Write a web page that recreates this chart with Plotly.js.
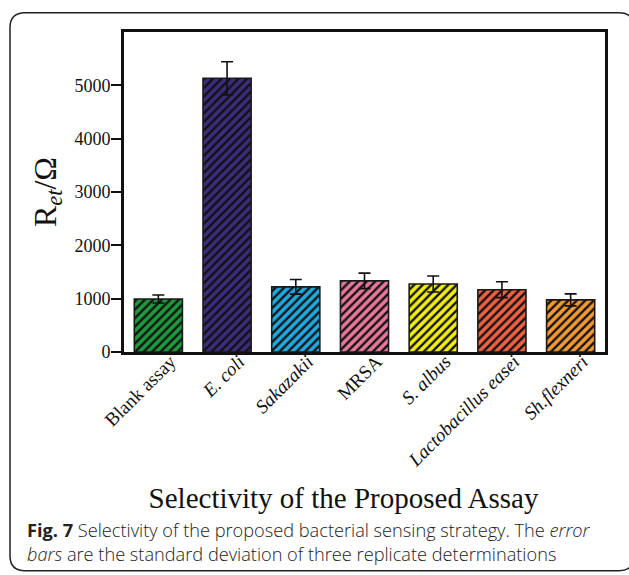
<!DOCTYPE html>
<html>
<head>
<meta charset="utf-8">
<script src="https://cdn.plot.ly/plotly-3.0.1.min.js"></script>
<style>
  html, body { margin: 0; padding: 0; background: #ffffff; }
  #chart { width: 629px; height: 575px; }
</style>
</head>
<body>
<div id="chart"></div>
<script>
// Data
const categories = ["Blank assay", "E. coli", "Sakazakii", "MRSA", "S. albus", "Lactobacillus easei", "Sh.flexneri"];
const tickLabels = ["Blank assay", "<i>E. coli</i>", "<i>Sakazakii</i>", "MRSA", "<i>S. albus</i>", "<i>Lactobacillus easei</i>", "<i>Sh.flexneri</i>"];
const retValues = [995, 5132, 1222, 1333, 1275, 1168, 977];
const retErrors = [75, 311, 137, 145, 150, 148, 113];
const barColors = ["#1c9a3e", "#3d2b7c", "#1ea9e1", "#e8789b", "#f2ee12", "#ee6042", "#f59a32"];
const yTickValues = [0, 1000, 2000, 3000, 4000, 5000];
const yTickText = ["0", "1000", "2000", "3000", "4000", "5000"];

const serif = "'Liberation Serif', 'Times New Roman', serif";
const sans = "'Open Sans', 'Noto Sans', sans-serif";

// geometry helpers for the rounded border (paper coords from pixel positions)
const L = 124, R = 605, T = 31.7, B = 352;
const px = v => (v - L) / (R - L);
const py = v => (B - v) / (B - T);
function roundedPath(x0, y0, x1, y1, r) {
  return "M" + px(x0 + r) + "," + py(y0) +
    " L" + px(x1 - r) + "," + py(y0) +
    " Q" + px(x1) + "," + py(y0) + " " + px(x1) + "," + py(y0 + r) +
    " L" + px(x1) + "," + py(y1 - r) +
    " Q" + px(x1) + "," + py(y1) + " " + px(x1 - r) + "," + py(y1) +
    " L" + px(x0 + r) + "," + py(y1) +
    " Q" + px(x0) + "," + py(y1) + " " + px(x0) + "," + py(y1 - r) +
    " L" + px(x0) + "," + py(y0 + r) +
    " Q" + px(x0) + "," + py(y0) + " " + px(x0 + r) + "," + py(y0) + " Z";
}

// one trace per category so each bar keeps its own fill with a black hatch
const traces = categories.map((cat, i) => ({
  type: "bar",
  name: cat,
  x: [cat],
  y: [retValues[i]],
  marker: {
    color: barColors[i],
    line: { color: "#1a1a1a", width: 1.6 },
    pattern: { shape: "/", fgcolor: "#111111", bgcolor: barColors[i], fgopacity: 1, size: 6, solidity: 0.4, fillmode: "overlay" }
  },
  error_y: { type: "data", array: [retErrors[i]], visible: true, color: "#111111", thickness: 1.6, width: 6 },
  hoverinfo: "x+y"
}));

const layout = {
  width: 629,
  height: 575,
  margin: { l: L, r: 629 - R, t: T, b: 575 - B },
  paper_bgcolor: "#ffffff",
  plot_bgcolor: "#ffffff",
  showlegend: false,
  barmode: "overlay",
  bargap: 0.3,
  font: { family: serif, color: "#111111" },
  title: {
    text: "Selectivity of the Proposed Assay",
    font: { family: serif, size: 29, color: "#111111" },
    xref: "container", yref: "container",
    x: 343.5 / 629, xanchor: "center",
    y: (575 - 498) / 575, yanchor: "middle"
  },
  xaxis: {
    type: "category",
    categoryorder: "array",
    categoryarray: categories,
    tickmode: "array",
    tickvals: categories,
    ticktext: tickLabels,
    tickangle: -45,
    tickfont: { family: serif, size: 19, color: "#111111" },
    ticks: "",
    ticklabelshift: 12,
    ticklabelstandoff: -12,
    showline: true, linecolor: "#111111", linewidth: 3, mirror: true,
    showgrid: false, zeroline: false,
    automargin: false
  },
  yaxis: {
    range: [0, 6000],
    tickmode: "array",
    tickvals: yTickValues,
    ticktext: yTickText,
    tickfont: { family: serif, size: 18, color: "#111111" },
    ticks: "outside", ticklen: 10, tickwidth: 2, tickcolor: "#111111",
    ticklabelstandoff: -3,
    showline: true, linecolor: "#111111", linewidth: 3, mirror: true,
    showgrid: false, zeroline: false,
    automargin: false,
    title: { text: "R<sub><i>et</i></sub>/Ω", font: { family: serif, size: 32, color: "#111111" }, standoff: 9 }
  },
  shapes: [
    {
      type: "path", xref: "paper", yref: "paper",
      path: roundedPath(10, 12.5, 634, 571, 15),
      line: { color: "#222222", width: 1.5 },
      fillcolor: "rgba(0,0,0,0)",
      layer: "below"
    }
  ],
  annotations: [
    {
      xref: "paper", yref: "paper",
      x: px(25), y: py(542.5), xanchor: "left", yanchor: "middle",
      align: "left", showarrow: false,
      text: "<b>Fig. 7</b> Selectivity of the proposed bacterial sensing strategy. The <i>error</i><br><i>bars</i> are the standard deviation of three replicate determinations",
      font: { family: sans, size: 18.2, weight: 300, color: "#222222" }
    }
  ]
};

Plotly.newPlot("chart", traces, layout, { displayModeBar: false, staticPlot: true });
</script>
</body>
</html>
